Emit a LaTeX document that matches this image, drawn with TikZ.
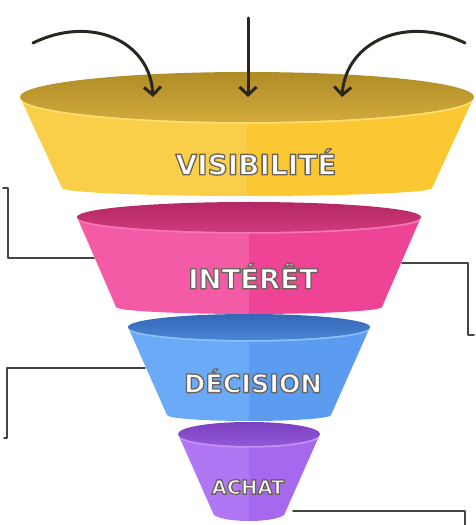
\documentclass[tikz,border=0pt]{standalone}
\usepackage{fontspec}
\newfontfamily\lblfont{DejaVu Sans}
\usetikzlibrary{arrows.meta}
\definecolor{yell}{HTML}{F9CE48}
\definecolor{yelr}{HTML}{FBC733}
\definecolor{yelh}{HTML}{FFDF70}
\definecolor{yeltA}{HTML}{B08C27}
\definecolor{yeltB}{HTML}{D2AA3C}
\definecolor{pinl}{HTML}{F35BA6}
\definecolor{pinr}{HTML}{EF4395}
\definecolor{pinh}{HTML}{F878B8}
\definecolor{pintA}{HTML}{B32863}
\definecolor{pintB}{HTML}{D03A7C}
\definecolor{blul}{HTML}{6BAAF6}
\definecolor{blur}{HTML}{5C9CF0}
\definecolor{bluh}{HTML}{8CC0FA}
\definecolor{blutA}{HTML}{3366B5}
\definecolor{blutB}{HTML}{4A86D4}
\definecolor{purl}{HTML}{B076F4}
\definecolor{purr}{HTML}{A768F0}
\definecolor{purh}{HTML}{C492F8}
\definecolor{purtA}{HTML}{7A40BE}
\definecolor{purtB}{HTML}{9458DA}
\definecolor{linec}{HTML}{45453F}
\definecolor{arrc}{HTML}{2A2620}
% outlined white text: PDF text render mode 2 (fill + stroke)
\newcommand\olt[1]{\special{pdf:literal direct 2 Tr 1.3 w 1 j 0.42 0.39 0.35 RG}#1\special{pdf:literal direct 0 Tr}}
% #1 colour prefix, #2 cx, #3 top y, #4 top a, #5 top b, #6 bottom y, #7 bottom a, #8 bottom b
\newcommand\seg[8]{%
  \begin{scope}
    \clip (#2-#4,#3) -- (#2-#7,#6) arc[start angle=180,end angle=360,x radius=#7,y radius=#8] -- (#2+#4,#3) -- cycle;
    \fill[#1l] (#2-#4-2,#3+2) rectangle (#2,#6-#8-2);
    \fill[#1r] (#2,#3+2) rectangle (#2+#4+2,#6-#8-2);
    \draw[#1h, line width=3.5pt] (#2-#4,#3) arc[start angle=180,end angle=360,x radius=#4,y radius=#5];
  \end{scope}
  \shade[top color=#1tA, bottom color=#1tB] (#2,#3) ellipse[x radius=#4, y radius=#5];
}
\tikzset{
  lbl/.style={text=white, inner sep=0pt},
  bracket/.style={draw=linec, line width=1.8pt, line join=round, line cap=round},
  arr/.style={draw=arrc, line width=3pt, line cap=round, -{Straight Barb[length=8pt,width=17pt,line width=3pt]}}
}
\begin{document}
\begin{tikzpicture}[x=1pt,y=1pt]
\useasboundingbox (0,0) rectangle (476,525);
\fill[white] (0,0) rectangle (476,525);
% funnel segments, bottom first
\seg{pur}{249}{91}{71}{12}{12}{36}{8}
\seg{blu}{249}{198}{121}{13}{110}{82}{6}
\seg{pin}{249}{308}{172}{15}{218}{133}{7}
\seg{yel}{247}{428}{227}{25}{337}{185}{8}
% labels
\node[lbl, font=\lblfont\bfseries\fontsize{28}{29}\selectfont] (vis) at (256,363) {\olt{VISIBILITÉ}};
\node[lbl, font=\lblfont\bfseries\fontsize{27.5}{29}\selectfont] (int) at (253,249) {\olt{INTÉRÊT}};
\node[lbl, font=\lblfont\bfseries\fontsize{25.5}{27}\selectfont] (dec) at (253,144) {\olt{DÉCISION}};
\node[lbl, font=\lblfont\bfseries\fontsize{19.5}{21}\selectfont] (ach) at (248,38) {\olt{ACHAT}};
% connector coordinates
\coordinate (pinL) at (94,267);
\coordinate (pinR) at (402,262);
\coordinate (bluL) at (145,157);
\coordinate (purR) at (293,14);
\coordinate (e1) at (3,337);
\coordinate (e2) at (474,190);
\coordinate (e3) at (4,87);
\coordinate (e4) at (465,-3);
\draw[bracket] (e1) -- (8,337) -- (8,267) -- (pinL);
\draw[bracket] (pinR) -- (468,262) -- (468,190) -- (e2);
\draw[bracket] (bluL) -- (7,157) -- (7,87) -- (e3);
\draw[bracket] (purR) -- (465,14) -- (e4);
% arrows
\coordinate (a1s) at (33,482);
\coordinate (a1e) at (153,428);
\coordinate (a2s) at (248,507);
\coordinate (a2e) at (248,428);
\coordinate (a3s) at (465,482);
\coordinate (a3e) at (342,428);
\draw[arr] (a1s) .. controls (90,510) and (150,485) .. (a1e);
\draw[arr] (a2s) -- (a2e);
\draw[arr] (a3s) .. controls (408,510) and (346,485) .. (a3e);
\end{tikzpicture}
\end{document}
